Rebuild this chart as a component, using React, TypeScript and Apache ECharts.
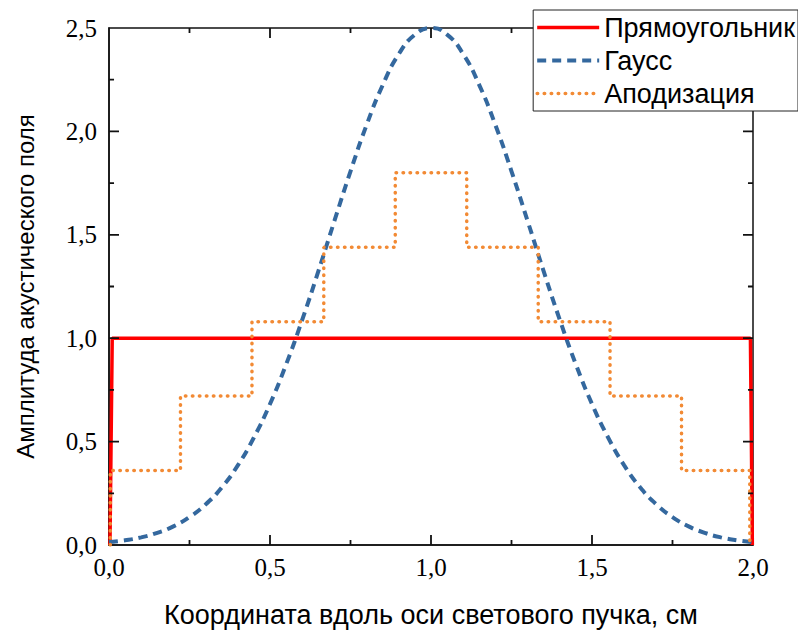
import React, { useEffect, useRef } from "react";
import * as echarts from "echarts";

const rectX = [0.003, 0.01, 1.992, 1.998];
const rectY = [0, 1, 1, 0];

const gaussX = [
  0, 0.05, 0.1, 0.15, 0.2, 0.25, 0.3, 0.35, 0.4, 0.45, 0.5, 0.55, 0.6, 0.65, 0.7, 0.75, 0.8, 0.85, 0.9, 0.95, 1.0,
  1.05, 1.1, 1.15, 1.2, 1.25, 1.3, 1.35, 1.4, 1.45, 1.5, 1.55, 1.6, 1.65, 1.7, 1.75, 1.8, 1.85, 1.9, 1.95, 2.0,
];
const gaussY = [
  0.014, 0.023, 0.037, 0.059, 0.09, 0.135, 0.196, 0.278, 0.385, 0.52, 0.682, 0.873, 1.089, 1.323, 1.567, 1.807,
  2.031, 2.224, 2.374, 2.468, 2.5, 2.468, 2.374, 2.224, 2.031, 1.807, 1.567, 1.323, 1.089, 0.873, 0.682, 0.52,
  0.385, 0.278, 0.196, 0.135, 0.09, 0.059, 0.037, 0.023, 0.014,
];

const apodEdges = [0.004, 0.222, 0.444, 0.667, 0.889, 1.111, 1.333, 1.556, 1.778, 1.99];
const apodLevels = [0.36, 0.72, 1.08, 1.44, 1.8, 1.44, 1.08, 0.72, 0.36];

const xMajorTicks = [0.5, 1.0, 1.5];
const xMinorTicks = [0.25, 0.75, 1.25, 1.75];
const yMajorTicks = [0.5, 1.0, 1.5, 2.0];
const yMinorTicks = [0.25, 0.75, 1.25, 1.75, 2.25];

const seriesNames = ["Прямоугольник", "Гаусс", "Аподизация"];
const xTitle = "Координата вдоль оси светового пучка, см";
const yTitle = "Амплитуда акустического поля";

const X_MIN = 0;
const X_MAX = 2;
const Y_MIN = 0;
const Y_MAX = 2.5;

const fmt = (v: number) => v.toFixed(1).replace(".", ",");

export default function App() {
  const ref = useRef<HTMLDivElement>(null);
  useEffect(() => {
    if (!ref.current) return;
    const chart = echarts.init(ref.current, undefined, { renderer: "svg" });

    const apodData: number[][] = [[apodEdges[0], 0]];
    apodLevels.forEach((lv, i) => {
      apodData.push([apodEdges[i], lv]);
      apodData.push([apodEdges[i + 1], lv]);
    });
    apodData.push([apodEdges[apodEdges.length - 1], 0]);

    // inward frame ticks as broken line segments (tick length as a fraction of the axis span)
    const majorFrac = 0.0193;
    const minorFrac = 0.0097;
    const yLen = (f: number) => (Y_MAX - Y_MIN) * f;
    const xLen = (f: number) => (X_MAX - X_MIN) * f * (518 / 644);
    const tickData: any[] = [];
    const gap = [null, null];
    const addX = (vals: number[], f: number) =>
      vals.forEach((v) => {
        tickData.push([v, Y_MIN], [v, Y_MIN + yLen(f)], gap);
        tickData.push([v, Y_MAX], [v, Y_MAX - yLen(f)], gap);
      });
    const addY = (vals: number[], f: number) =>
      vals.forEach((v) => {
        tickData.push([X_MIN, v], [X_MIN + xLen(f), v], gap);
        tickData.push([X_MAX, v], [X_MAX - xLen(f), v], gap);
      });
    addX(xMajorTicks, majorFrac);
    addX(xMinorTicks, minorFrac);
    addY(yMajorTicks, majorFrac);
    addY(yMinorTicks, minorFrac);

    const ink = "#111";
    const axisLine = { show: true, lineStyle: { color: ink, width: 1.5 } };
    const labelFont = { fontFamily: "Times New Roman, Liberation Serif, serif", fontSize: 25, color: "#000" };
    const sans = "Arial, Liberation Sans, sans-serif";

    chart.setOption({
      animation: false,
      backgroundColor: "#fff",
      grid: {
        left: 109,
        right: 45,
        top: 28,
        bottom: 86,
        containLabel: false,
        show: true,
        borderColor: ink,
        borderWidth: 1.5,
        backgroundColor: "transparent",
      },
      legend: {
        orient: "vertical",
        right: 0,
        top: 10,
        data: seriesNames,
        backgroundColor: "#fff",
        borderColor: "#222",
        borderWidth: 1,
        borderRadius: 0,
        padding: [4, 3, 4, 2],
        itemGap: 6,
        itemWidth: 62,
        itemHeight: 14,
        itemStyle: { opacity: 0, borderWidth: 0 },
        lineStyle: { width: "inherit" },
        textStyle: { fontFamily: sans, fontSize: 27, color: "#000" },
        z: 10,
      },
      xAxis: {
        type: "value",
        min: X_MIN,
        max: X_MAX,
        interval: 0.5,
        position: "bottom",
        name: xTitle,
        nameLocation: "middle",
        nameGap: 56,
        nameTextStyle: { fontFamily: sans, fontSize: 27, color: "#000" },
        axisLine,
        axisTick: { show: false },
        splitLine: { show: false },
        axisLabel: { ...labelFont, margin: 10, formatter: (v: number) => fmt(v) },
      },
      yAxis: {
        type: "value",
        min: Y_MIN,
        max: Y_MAX,
        interval: 0.5,
        position: "left",
        name: yTitle,
        nameLocation: "middle",
        nameGap: 72,
        nameTextStyle: { fontFamily: sans, fontSize: 24, color: "#000" },
        axisLine,
        axisTick: { show: false },
        splitLine: { show: false },
        axisLabel: { ...labelFont, margin: 12, formatter: (v: number) => fmt(v) },
      },
      series: [
        {
          name: seriesNames[0],
          type: "line",
          data: rectX.map((x, i) => [x, rectY[i]]),
          symbol: "none",
          lineStyle: { color: "#ff0000", width: 3.5 },
          itemStyle: { color: "#ff0000" },
          z: 3,
        },
        {
          name: seriesNames[1],
          type: "line",
          smooth: true,
          data: gaussX.map((x, i) => [x, gaussY[i]]),
          symbol: "none",
          lineStyle: { color: "#34689e", width: 4, type: [9, 6] },
          itemStyle: { color: "#34689e" },
          z: 4,
        },
        {
          name: seriesNames[2],
          type: "line",
          data: apodData,
          symbol: "none",
          lineStyle: { color: "#f28a34", width: 3.5, type: [0.5, 6.5], cap: "round" },
          itemStyle: { color: "#f28a34" },
          z: 5,
        },
        {
          name: "ticks",
          type: "line",
          data: tickData,
          symbol: "none",
          connectNulls: false,
          silent: true,
          lineStyle: { color: ink, width: 1.8 },
          itemStyle: { color: ink },
          z: 6,
        },
      ],
    });

    return () => chart.dispose();
  }, []);
  return <div ref={ref} style={{ width: 798, height: 633, position: "absolute", left: 0, top: 0 }} />;
}
